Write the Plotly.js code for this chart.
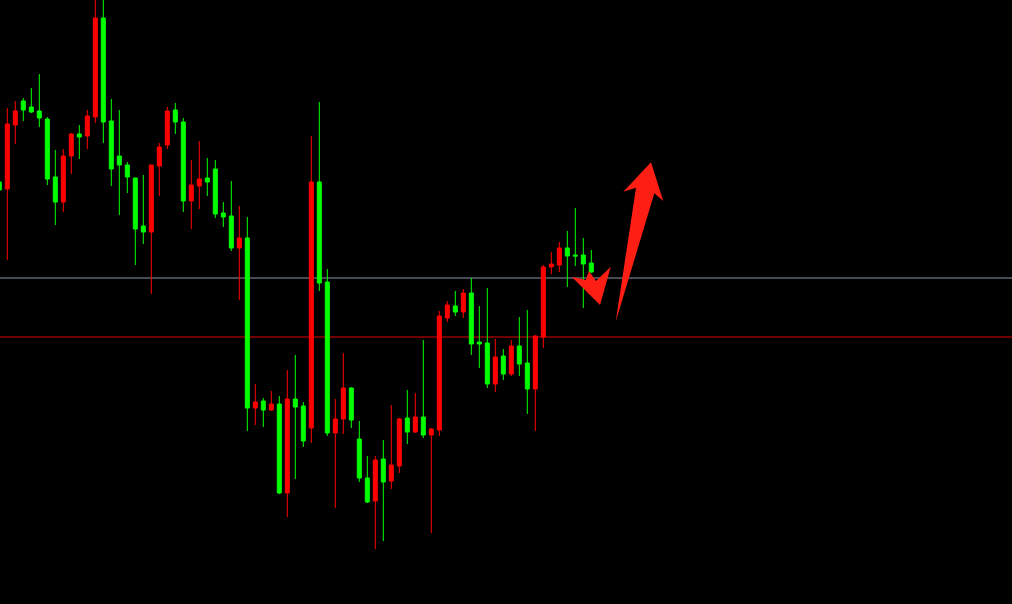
<!DOCTYPE html>
<html>
<head>
<meta charset="utf-8">
<script src="https://cdn.plot.ly/plotly-3.0.1.min.js"></script>
<style>
  html, body { margin: 0; padding: 0; background: #000; }
  #chart { width: 1012px; height: 604px; }
</style>
</head>
<body>
<div id="chart"></div>
<script>
// Bar numbers (bar -1 is cut off at the left edge)
const bars = [-1,0,1,2,3,4,5,6,7,8,9,10,11,12,13,14,15,16,17,18,19,20,21,22,23,24,25,26,27,28,29,30,31,32,33,34,35,36,37,38,39,40,41,42,43,44,45,46,47,48,49,50,51,52,53,54,55,56,57,58,59,60,61,62,63,64,65,66,67,68,69,70,71,72,73];

const openP  = [422,415,479,503,497,493,485,427,402,448,470,468,487,586,483,448,439,426,378,372,438,459,494,482,403,418,426,435,391,388,356,366,196,203,194,200,111,205,198,176,422,322,171,185,216,165,126,103,145,123,138,186,172,187,169,174,286,298,292,311,262,261,220,248,230,258,241,215,267,337,339,356,349,349,341];
const highP  = [424,496,503,506,516,530,487,454,455,471,479,494,604,604,505,494,442,426,429,439,461,497,501,486,444,463,446,444,402,423,398,387,220,206,213,208,234,249,202,468,502,335,205,251,217,183,148,148,164,199,186,214,211,264,176,293,303,313,315,326,298,316,265,255,264,287,294,269,339,352,362,373,396,366,354];
const lowP   = [412,344,460,483,491,477,419,379,392,430,445,455,481,461,418,389,411,339,360,310,408,455,470,392,375,395,408,386,377,353,304,173,179,177,193,110,87,125,157,161,313,168,96,170,176,122,101,55,63,115,131,160,171,166,71,168,282,288,286,249,236,216,212,224,228,228,190,173,256,330,332,317,338,296,331];
const closeP = [414,480,493,494,492,486,425,402,448,470,467,488,586,482,435,439,427,375,372,439,457,493,482,403,419,425,422,390,387,356,366,196,202,194,200,111,205,197,163,422,321,171,185,216,184,126,102,144,122,139,185,172,187,169,175,288,299,292,311,260,260,220,247,230,258,240,215,268,337,340,356,348,348,340,332];

// Horizontal reference levels
const levelValues = [326, 267];
const levelColors = ['#8a97a8', '#e00000'];

// Hand-drawn arrows, vertices as [bar, price]
const arrowSmall = [[70.55,327.3],[72.3,324],[72.71,333],[73.59,323],[75.43,337.3],[74.09,299]];
const arrowBig   = [[80.46,441.7],[82.0,403],[80.88,410.7],[76.05,282.3],[78.59,416.3],[77.0,412.3]];

const trace = {
  type: 'candlestick',
  x: bars,
  open: openP, high: highP, low: lowP, close: closeP,
  increasing: { line: { color: '#ff0000', width: 1 }, fillcolor: '#ff0000' },
  decreasing: { line: { color: '#00ff00', width: 1 }, fillcolor: '#00ff00' },
  whiskerwidth: 0,
  hoverinfo: 'skip',
  showlegend: false
};

function polyPath(pts) {
  return 'M ' + pts.map(p => p[0] + ',' + p[1]).join(' L ') + ' Z';
}

const shapes = levelValues.map((v, i) => ({
  type: 'line', xref: 'paper', x0: 0, x1: 1, yref: 'y', y0: v, y1: v,
  line: { color: levelColors[i], width: 1 }, layer: 'below'
}));
[arrowSmall, arrowBig].forEach(a => shapes.push({
  type: 'path', xref: 'x', yref: 'y', path: polyPath(a),
  fillcolor: '#ff1e14', line: { width: 0 }, layer: 'above'
}));

const layout = {
  width: 1012, height: 604,
  margin: { l: 0, r: 0, t: 0, b: 0, pad: 0 },
  paper_bgcolor: '#000000', plot_bgcolor: '#000000',
  showlegend: false,
  boxgap: 0.5, boxgroupgap: 0,
  xaxis: { range: [-0.9125, 125.5875], visible: false, showgrid: false, zeroline: false,
           rangeslider: { visible: false }, fixedrange: true },
  yaxis: { range: [0, 604], visible: false, showgrid: false, zeroline: false, fixedrange: true },
  shapes: shapes
};

Plotly.newPlot('chart', [trace], layout, { displayModeBar: false, staticPlot: true });
</script>
</body>
</html>
